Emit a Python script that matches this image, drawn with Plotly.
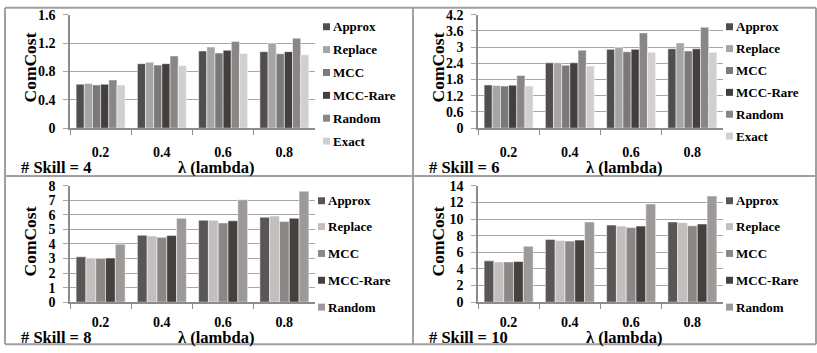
import plotly.graph_objects as go

# ---------------- data ----------------
lambdas = ["0.2", "0.4", "0.6", "0.8"]
methods = ["Approx", "Replace", "MCC", "MCC-Rare", "Random", "Exact"]

skill4_approx = [0.62, 0.91, 1.09, 1.08]
skill4_replace = [0.63, 0.93, 1.145, 1.20]
skill4_mcc = [0.61, 0.89, 1.06, 1.05]
skill4_mccrare = [0.62, 0.91, 1.10, 1.08]
skill4_random = [0.68, 1.02, 1.225, 1.27]
skill4_exact = [0.61, 0.885, 1.055, 1.035]

skill6_approx = [1.60, 2.42, 2.92, 2.94]
skill6_replace = [1.58, 2.42, 2.99, 3.16]
skill6_mcc = [1.56, 2.33, 2.83, 2.86]
skill6_mccrare = [1.59, 2.42, 2.92, 2.94]
skill6_random = [1.95, 2.89, 3.53, 3.74]
skill6_exact = [1.56, 2.30, 2.81, 2.81]

skill8_approx = [3.12, 4.60, 5.63, 5.84]
skill8_replace = [3.00, 4.55, 5.63, 5.92]
skill8_mcc = [3.00, 4.46, 5.45, 5.54]
skill8_mccrare = [3.03, 4.58, 5.59, 5.77]
skill8_random = [3.99, 5.77, 7.04, 7.63]

skill10_approx = [4.97, 7.55, 9.28, 9.65]
skill10_replace = [4.84, 7.43, 9.15, 9.57]
skill10_mcc = [4.84, 7.35, 8.99, 9.20]
skill10_mccrare = [4.89, 7.47, 9.15, 9.40]
skill10_random = [6.73, 9.65, 11.82, 12.77]

skill_labels = ["# Skill = 4", "# Skill = 6", "# Skill = 8", "# Skill = 10"]

# ---------------- style ----------------
W, H = 817, 353
FONT = "Liberation Serif"
top_colors = ["#524e4d", "#a5a5a5", "#7b7878", "#433f3e", "#8a8686", "#d0d0d0"]
bot_colors = ["#5a5655", "#c2bfbe", "#8b8787", "#46413f", "#9d9999"]


def px(x):
    return x / W


def py(y):
    # vertical position in pixels from the top, corrected for the observed capture scaling
    yd = (y - 7.15) / 0.963
    yd = min(max(yd, 0.8), H - 0.8)
    return 1 - yd / H


def bf(size):
    return dict(size=size, family=FONT, weight="bold", color="black")


panels = [
    dict(series=[skill4_approx, skill4_replace, skill4_mcc, skill4_mccrare, skill4_random, skill4_exact],
         colors=top_colors, x0=70, x1=315, y0=15, y1=129, ymax=1.6, dtick=0.4, ox=0, oy=0,
         leg_x=323, leg_y=[27, 50, 73, 96, 119, 142], lab_y=169, xstand=10),
    dict(series=[skill6_approx, skill6_replace, skill6_mcc, skill6_mccrare, skill6_random, skill6_exact],
         colors=top_colors, x0=478, x1=723, y0=15, y1=129, ymax=4.2, dtick=0.6, ox=408, oy=0,
         leg_x=726, leg_y=[27, 49, 71, 93, 115, 137], lab_y=169, xstand=10),
    dict(series=[skill8_approx, skill8_replace, skill8_mcc, skill8_mccrare, skill8_random],
         colors=bot_colors, x0=70, x1=315, y0=187, y1=304, ymax=8, dtick=1, ox=0, oy=175,
         leg_x=318, leg_y=[202, 228, 255, 282, 309], lab_y=340, xstand=6),
    dict(series=[skill10_approx, skill10_replace, skill10_mcc, skill10_mccrare, skill10_random],
         colors=bot_colors, x0=478, x1=723, y0=187, y1=304, ymax=14, dtick=2, ox=408, oy=175,
         leg_x=726, leg_y=[202, 228, 255, 282, 309], lab_y=340, xstand=6),
]

fig = go.Figure()
layout = dict(
    width=W, height=H, margin=dict(l=0, r=0, t=0, b=0),
    paper_bgcolor="white", plot_bgcolor="white",
    barmode="group", bargap=0.2, bargroupgap=0.0,
    showlegend=False, font=bf(14),
)
annotations = []
shapes = []

for i, p in enumerate(panels):
    k = "" if i == 0 else str(i + 1)
    for j, vals in enumerate(p["series"]):
        fig.add_trace(go.Bar(
            x=lambdas, y=vals, name=methods[j], xaxis="x" + k, yaxis="y" + k,
            marker=dict(color=p["colors"][j], line=dict(color="white", width=0.5)),
        ))
    layout["xaxis" + k] = dict(
        domain=[px(p["x0"]), px(p["x1"])], anchor="y" + k, type="category",
        showline=True, linecolor="#8c8c8c", linewidth=1.5, showgrid=False,
        ticks="outside", tickson="boundaries", ticklen=5, tickcolor="#8c8c8c",
        ticklabelstandoff=p["xstand"], tickfont=bf(14),
    )
    layout["yaxis" + k] = dict(
        domain=[py(p["y1"]), py(p["y0"])], anchor="x" + k,
        range=[0, p["ymax"]], dtick=p["dtick"], tick0=0,
        showline=True, linecolor="#8c8c8c", linewidth=1.5,
        showgrid=True, gridcolor="#a6a6a6", gridwidth=1, zeroline=False,
        ticks="outside", ticklen=5, tickcolor="#a6a6a6",
        ticklabelstandoff=5, tickfont=bf(14),
    )
    annotations.append(dict(
        text="ComCost", x=px(p["ox"] + 30), y=py(p["oy"] + 68), xref="paper", yref="paper",
        showarrow=False, textangle=-90, xanchor="center", yanchor="middle", font=bf(17.5),
    ))
    annotations.append(dict(
        text=skill_labels[i], x=px(p["ox"] + 19), y=py(p["lab_y"]),
        xref="paper", yref="paper", showarrow=False, xanchor="left", yanchor="middle", font=bf(16.5),
    ))
    annotations.append(dict(
        text="λ (lambda)", x=px(p["ox"] + 216), y=py(p["lab_y"]),
        xref="paper", yref="paper", showarrow=False, xanchor="center", yanchor="middle", font=bf(16.5),
    ))
    for j, ly in enumerate(p["leg_y"]):
        lx = p["leg_x"]
        shapes.append(dict(
            type="rect", xref="paper", yref="paper",
            x0=px(lx), x1=px(lx + 7), y0=py(ly + 3.5), y1=py(ly - 3.5),
            fillcolor=p["colors"][j], line=dict(width=0),
        ))
        annotations.append(dict(
            text=methods[j], x=px(lx + 8), y=py(ly), xref="paper", yref="paper",
            showarrow=False, xanchor="left", yanchor="middle", font=bf(13),
        ))

frame_col = "#a0a0a0"
for (x0, y0, x1, y1) in [(5, 4, 816, 4), (5, 352, 816, 352), (5, 4, 5, 352), (816, 4, 816, 352),
                         (413, 4, 413, 352), (5, 177, 816, 177)]:
    shapes.append(dict(type="line", xref="paper", yref="paper",
                       x0=px(x0), x1=px(x1), y0=py(y0), y1=py(y1),
                       line=dict(color=frame_col, width=2)))

layout["annotations"] = annotations
layout["shapes"] = shapes
fig.update_layout(**layout)
fig.write_html(
    "out.html",
    config={"displayModeBar": False},
    post_script=(
        "var d=document.getElementById('{plot_id}');"
        "d.style.position='fixed';d.style.top='0px';d.style.left='0px';"
        "document.body.style.margin='0';"
        "document.documentElement.style.overflow='hidden';"
        "document.body.style.overflow='hidden';"
    ),
)
